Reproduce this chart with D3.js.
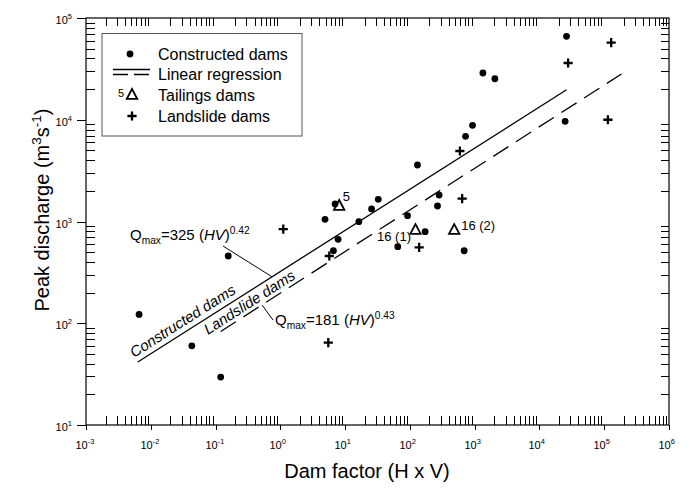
<!DOCTYPE html>
<html><head><meta charset="utf-8">
<script src="https://cdn.jsdelivr.net/npm/d3@7"></script>
<style>
body{margin:0;background:#fff}
svg{display:block}
text{font-family:"Liberation Sans",Arial,Helvetica,sans-serif;fill:#000}
</style>
</head><body>
<svg id="c" width="693" height="488"></svg>
<script>
// ---- data ----
const xExponents = [-3,-2,-1,0,1,2,3,4,5,6];
const yExponents = [1,2,3,4,5];
const constructedHV = [0.0066,0.043,0.12,0.157,4.9,7.0,7.8,6.6,16.3,25.6,32.5,131,92,172,65,283,267,689,723,927,1340,2050,26200,24900];
const constructedQ  = [122,60,29.6,458,1050,1490,668,517,995,1330,1650,3590,1140,794,566,1820,1420,516,6870,8810,28800,25300,66000,9640];
const landslideHV = [1.11,5.7,5.5,139,641,591,27700,128000,114000];
const landslideQ  = [843,458,64.4,557,1675,4930,36100,57200,10000];
const tailingsHV = [8.1,122,483];
const tailingsQ  = [1420,824,824];
const tailingsLabels = ["5","16 (1)","16 (2)"];
const constructedFitHV = [0.0063,26200], constructedFitQ = [41.6,19700];
const landslideFitHV = [0.12,185000], landslideFitQ = [83,28200];
const legendLabels = ["Constructed dams","Linear regression","Tailings dams","Landslide dams"];

// ---- layout ----
const W=693,H=488, L=86,R=669,T=18,B=425;
const svg=d3.select("#c");
const x=d3.scaleLog().domain([1e-3,1e6]).range([L,R]);
const y=d3.scaleLog().domain([10,1e5]).range([B,T]);

function rich(t, parts, size){
  let shift=0;
  parts.forEach(p=>{
    const ts=t.append("tspan").text(p.t);
    let target=0, fs=size;
    if(p.type==="sup"){target=-size*0.42; fs=size*0.68;}
    if(p.type==="sub"){target=size*0.25; fs=size*0.68;}
    ts.attr("font-size",fs).attr("dy",target-shift);
    if(p.italic) ts.attr("font-style","italic");
    shift=target;
  });
}

// minor ticks
const minorX=[],minorY=[];
for(let i=0;i<xExponents.length-1;i++) for(let m=2;m<10;m++) minorX.push(m*Math.pow(10,xExponents[i]));
for(let i=0;i<yExponents.length-1;i++) for(let m=2;m<10;m++) minorY.push(m*Math.pow(10,yExponents[i]));
const tk=svg.append("g").attr("stroke","#000").attr("stroke-width",1);
minorX.forEach(v=>{
  const px=Math.round(x(v))+0.5;
  tk.append("line").attr("x1",px).attr("x2",px).attr("y1",B).attr("y2",B-9);
  tk.append("line").attr("x1",px).attr("x2",px).attr("y1",T).attr("y2",T+8);
});
minorY.forEach(v=>{
  const py=Math.round(y(v))+0.5;
  tk.append("line").attr("y1",py).attr("y2",py).attr("x1",L).attr("x2",L+9);
  tk.append("line").attr("y1",py).attr("y2",py).attr("x1",R).attr("x2",R-8);
});
xExponents.forEach(e=>{
  const px=Math.round(x(Math.pow(10,e)))+0.5;
  tk.append("line").attr("x1",px).attr("x2",px).attr("y1",B).attr("y2",B+5);
  const t=svg.append("text").attr("x",px-11).attr("y",449).attr("font-size",11);
  rich(t,[{t:"10"},{t:String(e),type:"sup"}],11);
});
yExponents.forEach(e=>{
  const py=Math.round(y(Math.pow(10,e)))+0.5;
  tk.append("line").attr("y1",py).attr("y2",py).attr("x1",L).attr("x2",L-9);
  const t=svg.append("text").attr("x",72).attr("y",py+5).attr("font-size",11).attr("text-anchor","end");
  rich(t,[{t:"10"},{t:String(e),type:"sup"}],11);
});
// frame
svg.append("rect").attr("x",L).attr("y",T).attr("width",R-L).attr("height",B-T)
  .attr("fill","none").attr("stroke","#000").attr("stroke-width",1.2);

// axis titles
svg.append("text").attr("x",367).attr("y",478).attr("text-anchor","middle")
  .attr("font-size",20).text("Dam factor (H x V)");
{
  const t=svg.append("text").attr("transform","translate(49,210) rotate(-90)")
    .attr("text-anchor","middle").attr("font-size",20);
  rich(t,[{t:"Peak discharge (m"},{t:"3",type:"sup"},{t:"s"},{t:"-1",type:"sup"},{t:")"}],20);
}

// regression lines
const line=d3.line().x(d=>x(d[0])).y(d=>y(d[1]));
const cFit=constructedFitHV.map((v,i)=>[v,constructedFitQ[i]]);
const lFit=landslideFitHV.map((v,i)=>[v,landslideFitQ[i]]);
svg.append("path").attr("d",line(cFit)).attr("fill","none").attr("stroke","#000").attr("stroke-width",1.3);
svg.append("path").attr("d",line(lFit)).attr("fill","none").attr("stroke","#000").attr("stroke-width",1.3)
  .attr("stroke-dasharray","18,9");

const angC=Math.atan2(y(cFit[1][1])-y(cFit[0][1]), x(cFit[1][0])-x(cFit[0][0]))*180/Math.PI;
const angL=Math.atan2(y(lFit[1][1])-y(lFit[0][1]), x(lFit[1][0])-x(lFit[0][0]))*180/Math.PI;
svg.append("text").attr("transform",`translate(134,358) rotate(${angC})`).attr("font-size",15)
  .attr("font-style","italic").text("Constructed dams");
svg.append("text").attr("transform",`translate(208,335) rotate(${angL})`).attr("font-size",15)
  .attr("font-style","italic").text("Landslide dams");

// equation labels with leaders
function fitY(fit,hv){const a=Math.log10(fit[0][0]),b=Math.log10(fit[1][0]);const f=(Math.log10(hv)-a)/(b-a);return Math.pow(10,Math.log10(fit[0][1])+f*(Math.log10(fit[1][1])-Math.log10(fit[0][1])));}
{
  const hv=Math.pow(10,(272-L)/(R-L)*9-3);
  svg.append("line").attr("x1",223).attr("y1",246).attr("x2",x(hv)).attr("y2",y(fitY(cFit,hv)))
    .attr("stroke","#000").attr("stroke-width",1);
  const t=svg.append("text").attr("x",130).attr("y",240).attr("font-size",15);
  rich(t,[{t:"Q"},{t:"max",type:"sub"},{t:"=325 ("},{t:"HV",italic:true},{t:")"},{t:"0.42",type:"sup"}],15);
}
{
  const hv=Math.pow(10,(262-L)/(R-L)*9-3);
  svg.append("line").attr("x1",x(hv)).attr("y1",y(fitY(lFit,hv))).attr("x2",273).attr("y2",320)
    .attr("stroke","#000").attr("stroke-width",1);
  const t=svg.append("text").attr("x",275).attr("y",325).attr("font-size",15);
  rich(t,[{t:"Q"},{t:"max",type:"sub"},{t:"=181 ("},{t:"HV",italic:true},{t:")"},{t:"0.43",type:"sup"}],15);
}

// markers
function tri(g,cx,cy){g.append("path").attr("d",`M${cx},${cy-6}L${cx+5.2},${cy+3.8}L${cx-5.2},${cy+3.8}Z`)
  .attr("fill","none").attr("stroke","#000").attr("stroke-width",1.8).attr("stroke-linejoin","miter");}
function plus(g,cx,cy){g.append("path").attr("d",`M${cx-4.6},${cy}H${cx+4.6}M${cx},${cy-4.6}V${cy+4.6}`)
  .attr("stroke","#000").attr("stroke-width",2.3);}
const pts=svg.append("g");
constructedHV.forEach((v,i)=>pts.append("circle").attr("cx",x(v)).attr("cy",y(constructedQ[i])).attr("r",3.4).attr("fill","#000"));
landslideHV.forEach((v,i)=>plus(pts,x(v),y(landslideQ[i])));
const labOff=[[3.5,-5,"start"],[-4.5,10.5,"end"],[7,0,"start"]];
tailingsHV.forEach((v,i)=>{
  const cx=x(v),cy=y(tailingsQ[i]);
  tri(pts,cx,cy);
  svg.append("text").attr("x",cx+labOff[i][0]).attr("y",cy+labOff[i][1]).attr("text-anchor",labOff[i][2])
    .attr("font-size",13).text(tailingsLabels[i]);
});

// legend
const lg=svg.append("g");
lg.append("rect").attr("x",102).attr("y",33.5).attr("width",200).attr("height",102.5)
  .attr("fill","#fff").attr("stroke","#555").attr("stroke-width",1);
const rowsY=[54,74.5,95,116];
legendLabels.forEach((s,i)=>lg.append("text").attr("x",158).attr("y",rowsY[i]+5.8).attr("font-size",16).text(s));
lg.append("circle").attr("cx",130).attr("cy",rowsY[0]).attr("r",3.4).attr("fill","#000");
lg.append("line").attr("x1",113).attr("x2",150).attr("y1",rowsY[1]-5).attr("y2",rowsY[1]-5).attr("stroke","#000").attr("stroke-width",1.3);
lg.append("line").attr("x1",113).attr("x2",150).attr("y1",rowsY[1]).attr("y2",rowsY[1]).attr("stroke","#000").attr("stroke-width",1.3).attr("stroke-dasharray","15,6");
tri(lg,132,rowsY[2]);
lg.append("text").attr("x",118).attr("y",rowsY[2]+2).attr("font-size",11).text("5");
plus(lg,132,rowsY[3]);
</script>
</body></html>
